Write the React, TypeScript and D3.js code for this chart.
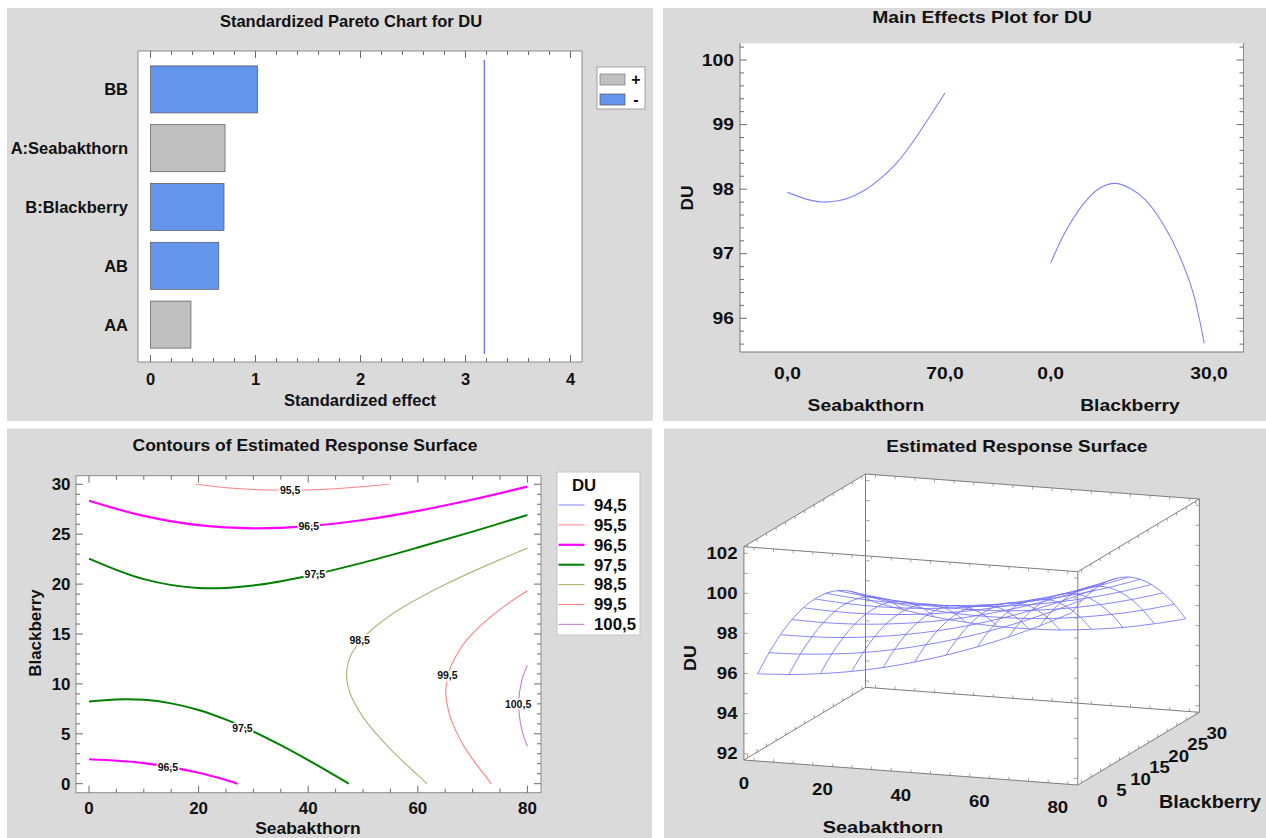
import React from 'react';
import * as d3 from 'd3';

const FONT = '"Liberation Sans", Arial, Helvetica, sans-serif';
const PANEL = '#dadada';

// ---- Standardized Pareto chart ----
const paretoTerms = ['BB', 'A:Seabakthorn', 'B:Blackberry', 'AB', 'AA'];
const paretoEffects = [1.02, 0.71, 0.7, 0.65, 0.385];
const paretoSigns = ['-', '+', '-', '-', '+'];
const paretoCritical = 3.18;
const paretoTicks = [0, 1, 2, 3, 4];

// ---- Main effects plot ----
const seaLevels = [0, 10, 15.6, 22.5, 27.7, 34.6, 41.5, 48.4, 55.3, 62.2, 70];
const seaEffect = [97.95, 97.83, 97.8, 97.82, 97.87, 97.99, 98.17, 98.4, 98.71, 99.07, 99.49];
const blackLevels = [0, 2.6, 6.3, 9.2, 12.2, 15.1, 18.0, 21.0, 24.0, 26.9, 29.1];
const blackEffect = [96.85, 97.31, 97.78, 98.01, 98.09, 98.01, 97.83, 97.5, 97.04, 96.42, 95.61];
const mainYTicks = [96, 97, 98, 99, 100];

// ---- Contours (Seabakthorn, Blackberry) ----
const contourLevels = ['94,5', '95,5', '96,5', '97,5', '98,5', '99,5', '100,5'];
const contour95_5 = [[19.5, 30], [25, 29.66], [30, 29.48], [35, 29.41], [40, 29.44], [45, 29.56], [50, 29.77], [54.8, 30]];
const contour96_5a = [[0, 28.35], [10, 26.83], [20, 25.9], [30, 25.59], [40, 25.81], [50, 26.42], [60, 27.34], [70, 28.48], [80, 29.77]];
const contour96_5b = [[0, 2.45], [10, 2.07], [20, 1.1], [25, 0.37], [27.1, 0]];
const contour97_5a = [[0, 22.56], [10, 20.5], [20, 19.61], [30, 19.87], [40, 20.84], [50, 22.15], [60, 23.66], [70, 25.26], [80, 26.93]];
const contour97_5b = [[0, 8.24], [5, 8.44], [10, 8.4], [15, 8.05], [20, 7.39], [25, 6.42], [30, 5.23], [35, 3.86], [40, 2.36], [45, 0.79], [47.4, 0]];
const contour98_5 = [[80, 23.6], [75, 22.45], [70, 21.25], [65, 19.96], [60, 18.54], [55, 16.89], [50, 14.62], [48, 13.1], [47.3, 12.14], [47.0, 10.9], [47.3, 9.68], [48, 8.58], [50, 6.68], [55, 3.46], [60, 0.86], [61.7, 0]];
const contour99_5 = [[80, 19.33], [76, 17.87], [72, 16.11], [70, 15.04], [68, 13.72], [66, 11.71], [65.4, 10.55], [65.1, 9.2], [65.4, 7.82], [66, 6.55], [68, 4.16], [70, 2.46], [72, 1.01], [73.4, 0]];
const contour100_5 = [[80, 11.85], [79, 10.42], [78.4, 7.95], [79, 5.37], [80, 3.75]];
const contourLabelText = ['95,5', '96,5', '97,5', '98,5', '99,5', '100,5', '97,5', '96,5'];
const contourLabelA = [36.7, 40.1, 41.2, 49.4, 65.4, 78.3, 28.0, 14.4];
const contourLabelB = [29.4, 25.8, 21.0, 14.4, 10.9, 7.96, 5.6, 1.64];

// ---- Estimated response surface grid ----
const surfA = [0, 8, 16, 24, 32, 40, 48, 56, 64, 72, 80];
const surfB = [0, 3, 6, 9, 12, 15, 18, 21, 24, 27, 30];
const surfDU = [
  [95.91, 96.62, 97.18, 97.59, 97.84, 97.94, 97.88, 97.67, 97.31, 96.79, 96.11],
  [95.99, 96.67, 97.19, 97.56, 97.77, 97.83, 97.73, 97.48, 97.08, 96.52, 95.81],
  [96.15, 96.79, 97.27, 97.6, 97.77, 97.79, 97.66, 97.37, 96.92, 96.33, 95.57],
  [96.38, 96.98, 97.43, 97.72, 97.85, 97.83, 97.66, 97.33, 96.85, 96.21, 95.42],
  [96.69, 97.25, 97.66, 97.91, 98.0, 97.94, 97.73, 97.36, 96.84, 96.17, 95.33],
  [97.08, 97.6, 97.96, 98.17, 98.23, 98.13, 97.88, 97.47, 96.91, 96.2, 95.33],
  [97.54, 98.02, 98.34, 98.52, 98.53, 98.4, 98.1, 97.66, 97.06, 96.3, 95.39],
  [98.07, 98.51, 98.8, 98.93, 98.91, 98.73, 98.4, 97.92, 97.28, 96.49, 95.54],
  [98.68, 99.08, 99.33, 99.42, 99.36, 99.15, 98.78, 98.25, 97.57, 96.74, 95.75],
  [99.36, 99.72, 99.93, 99.99, 99.89, 99.63, 99.22, 98.66, 97.94, 97.07, 96.05],
  [100.12, 100.44, 100.61, 100.63, 100.49, 100.2, 99.75, 99.15, 98.39, 97.48, 96.41],
];
const surfZTicks = [92, 94, 96, 98, 100, 102];
const surfATicks = [0, 20, 40, 60, 80];
const surfBTicks = [0, 5, 10, 15, 20, 25, 30];

const Txt = ({ x, y, text, size = 16, anchor = 'middle', sx = 1, rotate = 0, halo = false }: any) => (
  <text
    transform={`translate(${x},${y}) rotate(${rotate}) scale(${sx},1)`}
    textAnchor={anchor}
    dominantBaseline="central"
    fontFamily={FONT}
    fontSize={size}
    fontWeight="bold"
    fill="#111"
    stroke={halo ? '#fff' : 'none'}
    strokeWidth={halo ? 3 : 0}
    paintOrder="stroke"
  >
    {text}
  </text>
);

const isMajor = (v: number, step: number) => Math.abs(v / step - Math.round(v / step)) < 1e-6;

function Pareto() {
  const x = d3.scaleLinear().domain([0, 4]).range([150.5, 570.5]);
  const y = d3.scaleBand().domain(paretoTerms).range([60, 354]).paddingInner(0.2).paddingOuter(0.1);
  const f = { l: 138, r: 582, t: 51, b: 362 };
  const minor = d3.range(0, 4.001, 0.2);
  return (
    <g>
      <rect x={7} y={8} width={646} height={413} fill={PANEL} />
      <rect x={f.l} y={f.t} width={f.r - f.l} height={f.b - f.t} fill="#fff" stroke="#8c8c8c" />
      {minor.map((v) => {
        const len = isMajor(v, 1) ? 7 : 4;
        return (
          <g key={v} stroke="#6a6a6a">
            <line x1={x(v)} x2={x(v)} y1={f.b} y2={f.b - len} />
            <line x1={x(v)} x2={x(v)} y1={f.t} y2={f.t + len} />
          </g>
        );
      })}
      {paretoTerms.map((t, i) => (
        <rect
          key={t}
          x={x(0)}
          y={y(t)}
          width={x(paretoEffects[i]) - x(0)}
          height={y.bandwidth()}
          fill={paretoSigns[i] === '+' ? '#c0c0c0' : '#6495ed'}
          stroke="#555"
          strokeWidth={0.7}
        />
      ))}
      <line x1={x(paretoCritical)} x2={x(paretoCritical)} y1={60} y2={354} stroke="#7a7aff" strokeWidth={1.5} />
      {paretoTerms.map((t) => (
        <Txt key={t} x={128} y={(y(t) as number) + y.bandwidth() / 2} text={t} anchor="end" size={16.5} />
      ))}
      {paretoTicks.map((v) => (
        <Txt key={v} x={x(v)} y={379} text={String(v)} size={16.5} />
      ))}
      <Txt x={360} y={400} text="Standardized effect" size={16.5} />
      <Txt x={351} y={21} text="Standardized Pareto Chart for DU" size={16.5} />
      <rect x={597} y={67} width={48} height={42} fill="#fff" stroke="#a0a0a0" />
      <rect x={600} y={74} width={25} height={11} fill="#c0c0c0" stroke="#777" strokeWidth={0.7} />
      <rect x={600} y={94} width={25} height={11} fill="#6495ed" stroke="#555" strokeWidth={0.7} />
      <Txt x={636} y={79} text="+" size={16} />
      <Txt x={636} y={99} text="-" size={16} />
    </g>
  );
}

function MainEffects() {
  const y = d3.scaleLinear().domain([96, 100]).range([318.3, 60]);
  const xSea = d3.scaleLinear().domain([0, 70]).range([787.5, 945]);
  const xBlack = d3.scaleLinear().domain([0, 30]).range([1050.6, 1209]);
  const f = { l: 740, r: 1243.5, t: 43, b: 352 };
  const minor = d3.range(95.6, 100.21, 0.2);
  const seaLine = d3.line<number>().x((d, i) => xSea(seaLevels[i])).y((d) => y(d)).curve(d3.curveCatmullRom.alpha(0.5));
  const blackLine = d3.line<number>().x((d, i) => xBlack(blackLevels[i])).y((d) => y(d)).curve(d3.curveCatmullRom.alpha(0.5));
  const sx = 1.17;
  return (
    <g>
      <rect x={663} y={8} width={603} height={413} fill={PANEL} />
      <rect x={f.l} y={f.t} width={f.r - f.l} height={f.b - f.t} fill="#fff" />
      <line x1={f.l} x2={f.r} y1={f.t} y2={f.t} stroke="#e4e4e4" />
      <line x1={f.l} x2={f.l} y1={f.t} y2={f.b} stroke="#777" />
      <line x1={f.r} x2={f.r} y1={f.t} y2={f.b} stroke="#8c8c8c" />
      <line x1={f.l} x2={f.r} y1={f.b} y2={f.b} stroke="#777" />
      {minor.map((v) => {
        const len = isMajor(v, 1) ? 7 : 4;
        return (
          <g key={v} stroke="#6a6a6a">
            <line x1={f.l} x2={f.l + len} y1={y(v)} y2={y(v)} />
            <line x1={f.r} x2={f.r - len} y1={y(v)} y2={y(v)} />
          </g>
        );
      })}
      <path d={seaLine(seaEffect) || ''} fill="none" stroke="#8080ff" strokeWidth={1.1} />
      <path d={blackLine(blackEffect) || ''} fill="none" stroke="#8080ff" strokeWidth={1.1} />
      {mainYTicks.map((v) => (
        <Txt key={v} x={734} y={y(v)} text={String(v)} anchor="end" size={16.5} sx={sx} />
      ))}
      <Txt x={688} y={198} text="DU" rotate={-90} size={16.5} sx={1.05} />
      <Txt x={xSea(0)} y={373} text="0,0" size={16.5} sx={sx} />
      <Txt x={xSea(70)} y={373} text="70,0" size={16.5} sx={sx} />
      <Txt x={xBlack(0)} y={373} text="0,0" size={16.5} sx={sx} />
      <Txt x={xBlack(30)} y={373} text="30,0" size={16.5} sx={sx} />
      <Txt x={866} y={405} text="Seabakthorn" size={16.5} sx={sx} />
      <Txt x={1130} y={405} text="Blackberry" size={16.5} sx={sx} />
      <Txt x={982} y={17} text="Main Effects Plot for DU" size={16.5} sx={sx} />
    </g>
  );
}

function Contours() {
  const x = d3.scaleLinear().domain([0, 80]).range([89, 527.4]);
  const y = d3.scaleLinear().domain([0, 30]).range([783.7, 484.3]);
  const f = { l: 76, r: 541, t: 475.7, b: 792.7 };
  const colors = ['#8080ff', '#ff8080', '#ff00ff', '#008000', '#b6b47c', '#ff8080', '#c48ad2'];
  const widths = [1, 1, 2.2, 2, 1.2, 1.1, 1.2];
  const lines = [
    { level: 1, pts: contour95_5 },
    { level: 2, pts: contour96_5a },
    { level: 2, pts: contour96_5b },
    { level: 3, pts: contour97_5a },
    { level: 3, pts: contour97_5b },
    { level: 4, pts: contour98_5 },
    { level: 5, pts: contour99_5 },
    { level: 6, pts: contour100_5 },
  ];
  const path = d3.line<number[]>().x((d) => x(d[0])).y((d) => y(d[1])).curve(d3.curveCatmullRom.alpha(0.5));
  const yMinor = d3.range(0, 30.01, 1);
  const xMinor = d3.range(0, 80.01, 5);
  const sx = 1.06;
  return (
    <g>
      <rect x={7} y={428.5} width={645} height={410} fill={PANEL} />
      <rect x={f.l} y={f.t} width={f.r - f.l} height={f.b - f.t} fill="#fff" stroke="#8c8c8c" />
      {yMinor.map((v) => {
        const len = isMajor(v, 5) ? 7 : 4;
        return (
          <g key={'y' + v} stroke="#6a6a6a">
            <line x1={f.l} x2={f.l + len} y1={y(v)} y2={y(v)} />
            <line x1={f.r} x2={f.r - len} y1={y(v)} y2={y(v)} />
          </g>
        );
      })}
      {xMinor.map((v) => {
        const len = isMajor(v, 20) ? 7 : 4;
        return (
          <g key={'x' + v} stroke="#6a6a6a">
            <line x1={x(v)} x2={x(v)} y1={f.b} y2={f.b - len} />
            <line x1={x(v)} x2={x(v)} y1={f.t} y2={f.t + len} />
          </g>
        );
      })}
      {lines.map((l, i) => (
        <path key={i} d={path(l.pts) || ''} fill="none" stroke={colors[l.level]} strokeWidth={widths[l.level]} />
      ))}
      {contourLabelText.map((t, i) => (
        <Txt key={i} x={x(contourLabelA[i])} y={y(contourLabelB[i])} text={t} size={10.5} halo />
      ))}
      {d3.range(0, 30.01, 5).map((v) => (
        <Txt key={v} x={70.5} y={y(v)} text={String(v)} anchor="end" size={16} sx={sx} />
      ))}
      {d3.range(0, 80.01, 20).map((v) => (
        <Txt key={v} x={x(v)} y={808} text={String(v)} size={16} sx={sx} />
      ))}
      <Txt x={308} y={829} text="Seabakthorn" size={16} sx={1.09} />
      <Txt x={35} y={633} text="Blackberry" rotate={-90} size={16} sx={1.06} />
      <Txt x={305} y={446} text="Contours of Estimated Response Surface" size={16.5} sx={1.06} />
      <rect x={557} y={472} width={83} height={163} fill="#fff" stroke="#c4c4c4" />
      <Txt x={572} y={485} text="DU" anchor="start" size={16} sx={1.05} />
      {contourLevels.map((t, i) => (
        <g key={t}>
          <line x1={558.5} x2={584.5} y1={505 + i * 19.9} y2={505 + i * 19.9} stroke={colors[i]} strokeWidth={widths[i]} />
          <Txt x={594} y={505 + i * 19.9} text={t} anchor="start" size={16} sx={1.05} />
        </g>
      ))}
    </g>
  );
}

function Surface3D() {
  const boxA = [-2.56, 82.56];
  const boxB = [-0.96, 30.96];
  const boxZ = [91.68, 102.32];
  const tA = d3.scaleLinear().domain(boxA).range([0, 1]);
  const tB = d3.scaleLinear().domain(boxB).range([0, 1]);
  const tZ = d3.scaleLinear().domain(boxZ).range([0, 1]);
  const O = [743.9, 760];
  const EA = [333.9, 25];
  const EB = [121.6, -72.7];
  const EZ = [0, -213.3];
  const proj = (a: number, b: number, z: number): [number, number] => [
    O[0] + tA(a) * EA[0] + tB(b) * EB[0] + tZ(z) * EZ[0],
    O[1] + tA(a) * EA[1] + tB(b) * EB[1] + tZ(z) * EZ[1],
  ];
  const corner = (i: number, j: number, k: number) => proj(boxA[i], boxB[j], boxZ[k]);
  const edges: [number[], number[]][] = [];
  [0, 1].forEach((j) => [0, 1].forEach((k) => edges.push([[0, j, k], [1, j, k]])));
  [0, 1].forEach((i) => [0, 1].forEach((k) => edges.push([[i, 0, k], [i, 1, k]])));
  [0, 1].forEach((i) => [0, 1].forEach((j) => edges.push([[i, j, 0], [i, j, 1]])));

  const unit = (v: number[]) => {
    const n = Math.hypot(v[0], v[1]);
    return [v[0] / n, v[1] / n];
  };
  const uA = unit(EA);
  const ticks: string[] = [];
  [0, 1].forEach((i) =>
    [0, 1].forEach((j) =>
      d3.range(92, 102.01, 1).forEach((z) => {
        const p = proj(boxA[i], boxB[j], z);
        const s = i === 0 ? 4 : -4;
        ticks.push(`M${p[0]},${p[1]}L${p[0] + uA[0] * s},${p[1] + uA[1] * s}`);
      })
    )
  );
  [0, 1].forEach((j) =>
    [0, 1].forEach((k) =>
      d3.range(0, 80.01, 5).forEach((a) => {
        const p = proj(a, boxB[j], boxZ[k]);
        const s = k === 0 ? -3 : 3;
        ticks.push(`M${p[0]},${p[1]}L${p[0]},${p[1] + s}`);
      })
    )
  );
  [0, 1].forEach((i) =>
    [0, 1].forEach((k) =>
      d3.range(0, 30.01, 2.5).forEach((b) => {
        const p = proj(boxA[i], b, boxZ[k]);
        const s = k === 0 ? -3 : 3;
        ticks.push(`M${p[0]},${p[1]}L${p[0]},${p[1] + s}`);
      })
    )
  );

  const mesh = d3.line<[number, number]>().curve(d3.curveCatmullRom.alpha(0.5));
  const cols = surfA.map((a, i) => surfB.map((b, j) => proj(a, b, surfDU[i][j])));
  const rows = surfB.map((b, j) => surfA.map((a, i) => proj(a, b, surfDU[i][j])));
  const sx = 1.13;
  return (
    <g>
      <rect x={664} y={428.5} width={602} height={410} fill={PANEL} />
      <polygon
        points={[corner(0, 0, 0), corner(1, 0, 0), corner(1, 1, 0), corner(1, 1, 1), corner(0, 1, 1), corner(0, 0, 1)]
          .map((p) => p.join(','))
          .join(' ')}
        fill="#fff"
      />
      {edges.map((e, i) => {
        const p = corner(e[0][0], e[0][1], e[0][2]);
        const q = corner(e[1][0], e[1][1], e[1][2]);
        return <line key={i} x1={p[0]} y1={p[1]} x2={q[0]} y2={q[1]} stroke="#7c7c7c" strokeWidth={1} />;
      })}
      <path d={ticks.join('')} stroke="#8a8a8a" strokeWidth={0.8} fill="none" />
      <g fill="none" stroke="#6f6fff" strokeWidth={0.85}>
        {cols.map((c, i) => (
          <path key={'c' + i} d={mesh(c) || ''} />
        ))}
        {rows.map((r, i) => (
          <path key={'r' + i} d={mesh(r) || ''} />
        ))}
      </g>
      {surfZTicks.map((z) => (
        <Txt key={z} x={737.6} y={proj(boxA[0], boxB[0], z)[1]} text={String(z)} anchor="end" size={16.5} sx={sx} />
      ))}
      {surfATicks.map((a) => {
        const p = proj(a, boxB[0], boxZ[0]);
        return <Txt key={a} x={p[0] - 10} y={p[1] + 23} text={String(a)} size={16.5} sx={sx} />;
      })}
      {surfBTicks.map((b) => {
        const p = proj(boxA[1], b, boxZ[0]);
        return <Txt key={b} x={p[0] + 21} y={p[1] + 19} text={String(b)} size={16.5} sx={sx} />;
      })}
      <Txt x={690} y={658} text="DU" rotate={-90} size={17} sx={1.05} />
      <Txt x={883} y={827} text="Seabakthorn" size={17} sx={1.17} />
      <Txt x={1210} y={802} text="Blackberry" size={17.5} sx={1.13} />
      <Txt x={1017} y={446} text="Estimated Response Surface" size={16.5} sx={1.15} />
    </g>
  );
}

export default function App() {
  return (
    <svg
      width={1266}
      height={838}
      viewBox="0 0 1266 838"
      style={{ position: 'absolute', left: 0, top: 0, background: '#fff' }}
    >
      <rect x={0} y={0} width={1266} height={838} fill="#fff" />
      <Pareto />
      <MainEffects />
      <Contours />
      <Surface3D />
    </svg>
  );
}
